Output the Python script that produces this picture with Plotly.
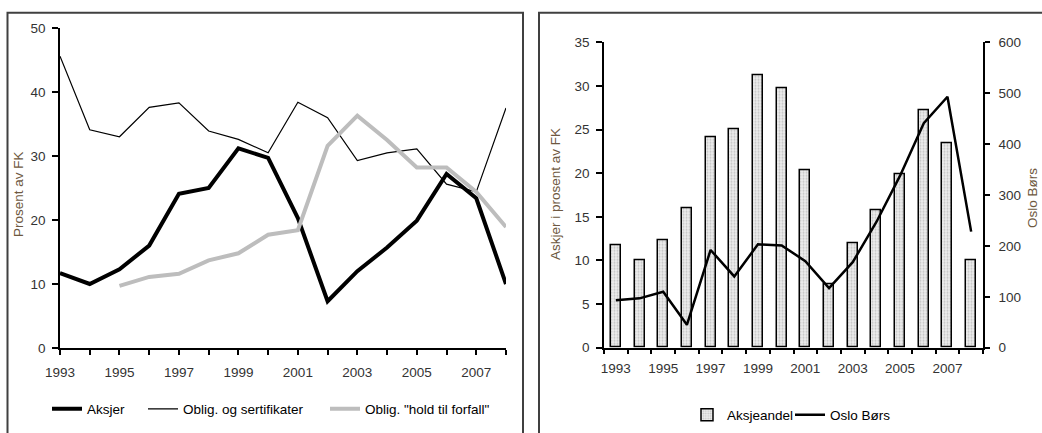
import plotly.graph_objects as go

years = list(range(1993, 2009))
year_labels = [str(y) if y % 2 == 1 else "" for y in years]

aksjer = [11.7, 10.0, 12.3, 16.0, 24.1, 25.0, 31.2, 29.7, 20.3, 7.3, 12.0, 15.7, 19.9, 27.2, 23.4, 10.0]
oblig = [45.6, 34.1, 33.0, 37.6, 38.3, 33.9, 32.6, 30.5, 38.4, 36.0, 29.3, 30.5, 31.1, 25.6, 24.4, 37.5]
hold = [None, None, 9.7, 11.1, 11.6, 13.7, 14.8, 17.7, 18.4, 31.6, 36.3, 32.5, 28.2, 28.2, 24.4, 18.9]
oslo = [93, 97, 110, 45, 192, 140, 203, 201, 170, 117, 168, 247, 338, 441, 493, 228]

W, H = 1042, 433
FONT = "Liberation Sans, Arial, sans-serif"
FS = 13.5
TICKC = "#333333"
TITLEC = "#6e5840"

def px(x):
    return x / W

def py(y):
    return 1 - y / H

fig = go.Figure()

# Left chart
fig.add_trace(go.Scatter(x=years, y=aksjer, mode="lines", name="Aksjer",
                         line=dict(color="black", width=4), xaxis="x", yaxis="y",
                         legend="legend"))
fig.add_trace(go.Scatter(x=years, y=oblig, mode="lines", name="Oblig. og sertifikater",
                         line=dict(color="black", width=1.2), xaxis="x", yaxis="y",
                         legend="legend2"))
fig.add_trace(go.Scatter(x=years, y=hold, mode="lines", name='Oblig. "hold til forfall"',
                         line=dict(color="#bdbdbd", width=4), xaxis="x", yaxis="y",
                         legend="legend3"))

# Right chart
fig.add_trace(go.Bar(x=years, y=aksjer, name="Aksjeandel", width=0.42,
                     marker=dict(color="#e4e4e4",
                                 pattern=dict(shape=".", fgcolor="#9a9a9a", bgcolor="#ececec",
                                              size=3, solidity=0.35),
                                 line=dict(color="black", width=1.5)),
                     xaxis="x2", yaxis="y2", legend="legend4"))
fig.add_trace(go.Scatter(x=years, y=oslo, mode="lines", name="Oslo Børs",
                         line=dict(color="black", width=2.5), xaxis="x2", yaxis="y3",
                         legend="legend5"))

axis_common = dict(showgrid=False, zeroline=False, showline=True, linecolor="black",
                   linewidth=1.5, ticks="outside", tickwidth=1.5, tickcolor="black",
                   automargin=False,
                   tickfont=dict(family=FONT, size=FS, color=TICKC))

fig.update_layout(
    width=W, height=H,
    margin=dict(l=0, r=0, t=0, b=0, autoexpand=False),
    paper_bgcolor="white", plot_bgcolor="rgba(0,0,0,0)",
    font=dict(family=FONT, size=FS, color=TICKC),
    bargap=0,
    hovermode=False,
    xaxis=dict(domain=[px(60), px(506)], range=[1993, 2008], tickvals=years,
               ticktext=year_labels, ticklen=5, ticklabelstandoff=6, anchor="y",
               **axis_common),
    yaxis=dict(domain=[py(348), py(28)], range=[0, 50], tickvals=[0, 10, 20, 30, 40, 50],
               ticklen=6, anchor="x", ticklabelstandoff=4, **axis_common),
    xaxis2=dict(domain=[px(604), px(983)], range=[1992.5, 2008.5],
                tickvals=[y for y in years if y % 2 == 1], ticklen=0,
                ticklabelstandoff=7, anchor="y2",
                minor=dict(tickvals=[y - 0.5 for y in years] + [2008.5], ticks="outside",
                           ticklen=5, tickwidth=1.5, tickcolor="black"),
                **axis_common),
    yaxis2=dict(domain=[py(347.7), py(42.3)], range=[0, 35],
                tickvals=[0, 5, 10, 15, 20, 25, 30, 35], ticklen=6, anchor="x2",
                ticklabelstandoff=4, **axis_common),
    yaxis3=dict(range=[0, 600], tickvals=[0, 100, 200, 300, 400, 500, 600], ticklen=5,
                overlaying="y2", side="right", anchor="x2", ticklabelstandoff=6,
                **axis_common),
    showlegend=True,
)

leg_common = dict(orientation="h", xanchor="left", yanchor="middle",
                  bgcolor="rgba(0,0,0,0)", font=dict(family=FONT, size=FS, color="black"),
                  tracegroupgap=0, itemwidth=30)
fig.update_layout(
    legend=dict(x=px(47), y=py(409), **leg_common),
    legend2=dict(x=px(143), y=py(409), **leg_common),
    legend3=dict(x=px(325), y=py(409), **leg_common),
    legend4=dict(x=px(687), y=py(415), **leg_common),
    legend5=dict(x=px(790), y=py(415), **leg_common),
)

# Panel frames
fig.add_shape(type="rect", xref="paper", yref="paper", x0=px(7.5), x1=px(523),
              y0=-0.05, y1=py(12.7), line=dict(color="#404040", width=2))
fig.add_shape(type="rect", xref="paper", yref="paper", x0=px(539), x1=1.05,
              y0=-0.05, y1=py(12.7), line=dict(color="#404040", width=2))

# Axis titles
ann_common = dict(xref="paper", yref="paper", textangle=-90, showarrow=False,
                  xanchor="center", yanchor="middle",
                  font=dict(family=FONT, size=FS, color=TITLEC))
fig.add_annotation(x=px(18), y=py(194), text="Prosent av FK", **ann_common)
fig.add_annotation(x=px(555), y=py(194), text="Askjer i prosent av FK", **ann_common)
fig.add_annotation(x=px(1032), y=py(198), text="Oslo Børs", **ann_common)

fig.write_html("out.html", config={"displayModeBar": False},
               post_script="document.body.style.margin='0';document.body.style.overflow='hidden';")
